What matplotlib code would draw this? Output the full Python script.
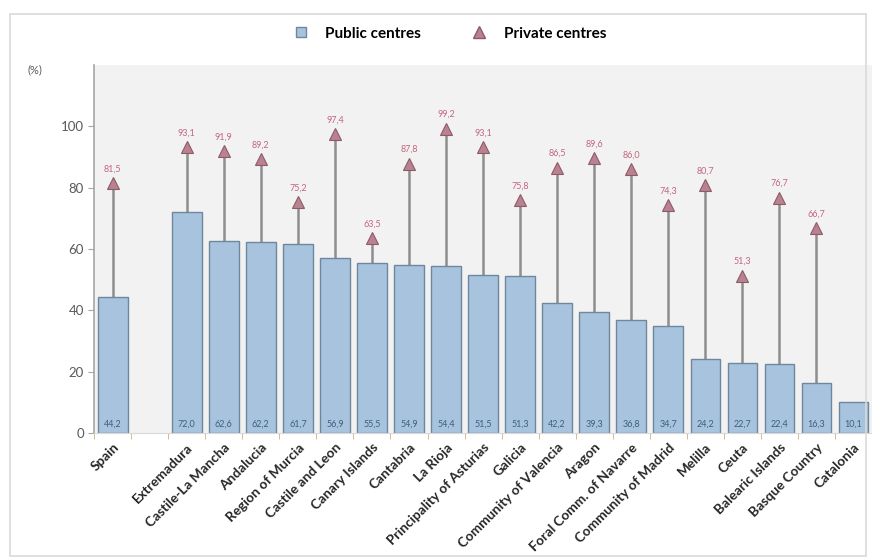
import numpy as np
import matplotlib.pyplot as plt
from matplotlib.patches import Rectangle
from matplotlib.lines import Line2D

plt.rcParams['font.family'] = ['Lato', 'DejaVu Sans']

regions = ["Spain", "Extremadura", "Castile-La Mancha", "Andalucia", "Region of Murcia",
           "Castile and Leon", "Canary Islands", "Cantabria", "La Rioja",
           "Principality of Asturias", "Galicia", "Community of Valencia", "Aragon",
           "Foral Comm. of Navarre", "Community of Madrid", "Melilla", "Ceuta",
           "Balearic Islands", "Basque Country", "Catalonia"]
public = [44.2, 72.0, 62.6, 62.2, 61.7, 56.9, 55.5, 54.9, 54.4, 51.5, 51.3,
          42.2, 39.3, 36.8, 34.7, 24.2, 22.7, 22.4, 16.3, 10.1]
private = [81.5, 93.1, 91.9, 89.2, 75.2, 97.4, 63.5, 87.8, 99.2, 93.1, 75.8,
           86.5, 89.6, 86.0, 74.3, 80.7, 51.3, 76.7, 66.7, np.nan]

# Spain on its own, then an empty slot
pos = np.array([0] + list(range(2, 2 + len(regions) - 1)))

fig = plt.figure(figsize=(8.72, 5.6), dpi=100)
fig.patches.append(Rectangle((0.011, 0.007), 0.982, 0.968, transform=fig.transFigure,
                             fill=False, edgecolor='#d9d9d9', linewidth=1.2))
ax = fig.add_axes([0.108, 0.227, 0.892, 0.657])
ax.set_facecolor('#f2f2f2')

bar_col = '#a7c3de'
tri_col = '#b8828f'
lab_col = '#c4667f'

for p, v in zip(pos, private):
    if not np.isnan(v):
        ax.vlines(p, 0, v, color='#8e8e8e', linewidth=1.8, zorder=1)
ax.bar(pos, public, width=0.8, color=bar_col, edgecolor='#6f879d', linewidth=1.0,
       zorder=2)
ax.plot(pos, private, linestyle='none', marker='^', markersize=9, color=tri_col,
        markeredgecolor='#8e5a6b', markeredgewidth=0.8, zorder=3)

for p, v in zip(pos, public):
    ax.text(p, 1.5, f"{v:.1f}".replace('.', ','), ha='center', va='bottom',
            fontsize=6.5, color='#3f5f80', zorder=4)
for p, v in zip(pos, private):
    if not np.isnan(v):
        ax.text(p, v + 3.2, f"{v:.1f}".replace('.', ','), ha='center', va='bottom',
                fontsize=6.5, color=lab_col, zorder=4)

ax.set_xlim(-0.5, 20.5)
ax.set_ylim(0, 120)
ax.set_yticks([0, 20, 40, 60, 80, 100])
ax.tick_params(axis='y', labelsize=9.5, colors='#595959', length=4, color='#a6a6a6')
ax.set_xticks(pos)
ax.set_xticklabels(regions, rotation=45, ha='right', rotation_mode='anchor',
                   fontsize=9.8, fontweight='bold', color='#262626')
ax.tick_params(axis='x', length=0, pad=6)
ax.set_xticks(np.arange(-0.5, 21, 1), minor=True)
ax.tick_params(axis='x', which='minor', length=4, color='#d0b080')
for s in ['top', 'right']:
    ax.spines[s].set_visible(False)
ax.spines['left'].set_color('#a6a6a6')
ax.spines['bottom'].set_color('#d9d9d9')
ax.spines['left'].set_linewidth(1.2)

fig.text(0.032, 0.875, '(%)', fontsize=8, color='#595959', ha='left', va='center')

handles = [Line2D([], [], linestyle='none', marker='s', markersize=7, color=bar_col,
                  markeredgecolor='#6f879d'),
           Line2D([], [], linestyle='none', marker='^', markersize=8, color=tri_col,
                  markeredgecolor='#8e5a6b')]
fig.legend(handles, ['Public centres', 'Private centres'], loc='center',
           bbox_to_anchor=(0.515, 0.94), ncol=2, frameon=False,
           prop={'weight': 'bold', 'size': 11}, handlelength=1.2, columnspacing=3.2,
           handletextpad=1.0)

fig.savefig("out.png", dpi=100)
